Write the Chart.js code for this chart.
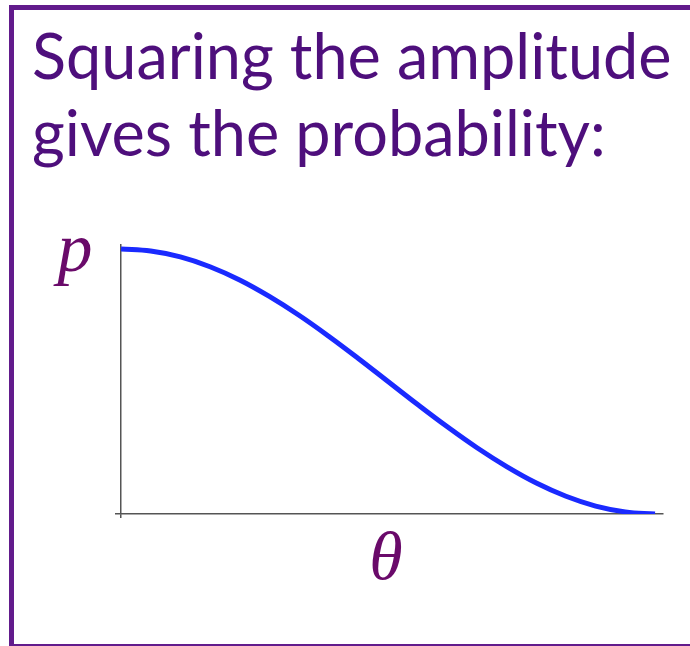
<!DOCTYPE html>
<html>
<head>
<meta charset="utf-8">
<script src="https://cdn.jsdelivr.net/npm/chart.js@4"></script>
<style>
  html, body { margin: 0; padding: 0; background: #fff; width: 690px; height: 646px; overflow: hidden; }
  #frame { position: absolute; left: 9px; top: 5px; width: 700px; height: 644px; box-sizing: border-box; border: 5px solid #621b8c; }
  #title { position: absolute; left: 32px; top: 16px; color: #4e0f7c; font-family: Lato, "Open Sans", sans-serif; font-size: 63px; line-height: 77px; white-space: nowrap; }
  #wrap { position: absolute; left: 0; top: 0; width: 690px; height: 646px; }
</style>
</head>
<body>
<div id="frame"></div>
<div id="title">Squaring the amplitude<br>gives the probability:</div>
<div id="wrap"><canvas id="c" width="690" height="646"></canvas></div>
<script>
// angle theta in degrees (0 .. 90)
const thetaDeg = [0, 5, 10, 15, 20, 25, 30, 35, 40, 45, 50, 55, 60, 65, 70, 75, 80, 85, 90];
// probability
const prob = [1.00, 0.992, 0.970, 0.933, 0.883, 0.821, 0.750, 0.671, 0.587, 0.500, 0.413, 0.329, 0.250, 0.179, 0.117, 0.067, 0.030, 0.008, 0.00];
const xLabel = 'θ';
const yLabel = 'p';

const points = thetaDeg.map((t, i) => ({ x: t, y: prob[i] }));

const labelPlugin = {
  id: 'axisLetters',
  afterDraw(chart) {
    const { ctx, chartArea } = chart;
    ctx.save();
    ctx.fillStyle = '#6a0a6a';
    ctx.textBaseline = 'alphabetic';
    ctx.textAlign = 'center';
    ctx.font = 'italic 70px "Liberation Serif", "DejaVu Serif", serif';
    ctx.fillText(yLabel, chartArea.left - 46, chartArea.top + 26);
    ctx.font = 'italic 68px "Liberation Serif", "DejaVu Serif", serif';
    ctx.fillText(xLabel, (chartArea.left + chartArea.right) / 2 - 6, chartArea.bottom + 65);
    ctx.restore();
  }
};

new Chart(document.getElementById('c'), {
  type: 'line',
  data: {
    datasets: [{
      data: points,
      borderColor: '#1a2aff',
      borderWidth: 5,
      pointRadius: 0,
      fill: false,
      tension: 0.4,
      borderCapStyle: 'butt'
    }]
  },
  options: {
    responsive: false,
    animation: false,
    layout: { padding: { left: 115, top: 245, right: 27, bottom: 128 } },
    plugins: { legend: { display: false }, tooltip: { enabled: false }, title: { display: false } },
    scales: {
      x: {
        type: 'linear',
        min: 0,
        max: 91.35,
        afterBuildTicks: (s) => { s.ticks = [{ value: 0 }]; },
        afterFit: (s) => { s.height = 4; },
        ticks: { display: false },
        grid: { drawOnChartArea: false, drawTicks: true, tickLength: 4, color: '#555', lineWidth: 1.5 },
        border: { display: true, color: '#555', width: 1.5 }
      },
      y: {
        type: 'linear',
        min: 0,
        max: 1.015,
        afterBuildTicks: (s) => { s.ticks = [{ value: 0 }]; },
        afterFit: (s) => { s.width = 6; },
        ticks: { display: false },
        grid: { drawOnChartArea: false, drawTicks: true, tickLength: 6, color: '#555', lineWidth: 1.5 },
        border: { display: true, color: '#555', width: 1.5 }
      }
    }
  },
  plugins: [labelPlugin]
});
</script>
</body>
</html>
